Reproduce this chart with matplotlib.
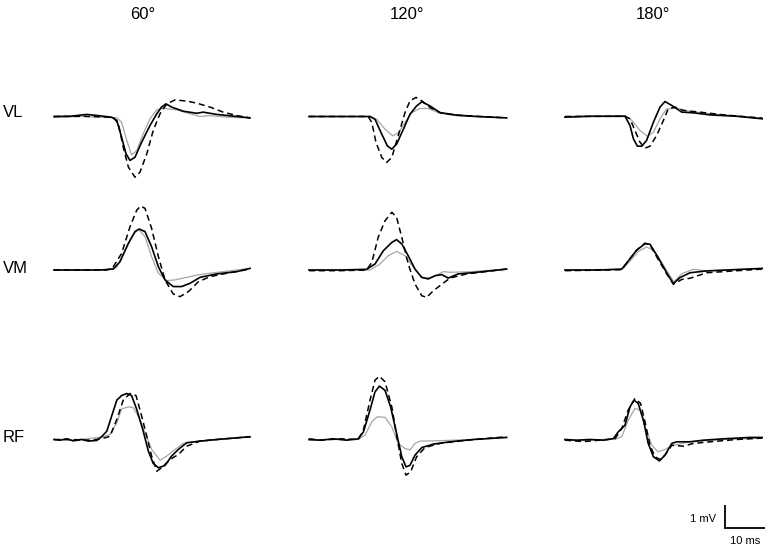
import matplotlib.pyplot as plt

plt.rcParams['font.family'] = ['Liberation Sans', 'DejaVu Sans']

angles = ['60°', '120°', '180°']
muscles = ['VL', 'VM', 'RF']

# traces as (time ms, amplitude mV)
vl_60_gray = [(0, -0.03), (7.3, 0), (11.5, -0.03), (15.7, -0.06), (16.9, -0.25), (18.2, -1.04),
              (19.4, -1.67), (20.7, -1.48), (22.3, -0.75), (24, -0.1), (25.7, 0.29), (27.3, 0.36),
              (30.7, 0.29), (34, 0.12), (36.5, 0), (39, 0.04), (43.2, -0.03), (49, -0.06)]
vl_60_black = [(0, 0), (4, 0.01), (8.2, 0.09), (11.5, 0.03), (14.4, -0.03), (15.7, -0.17),
               (16.9, -0.9), (18, -1.62), (19, -1.91), (20.25, -1.77), (21.9, -1.12), (24, -0.39),
               (25.7, 0.12), (26.9, 0.41), (28, 0.55), (29.4, 0.41), (32.3, 0.23), (35.7, 0.14),
               (37.3, 0.19), (40.7, 0.09), (45.7, 0), (49, -0.06)]
vl_60_dash = [(0, 0), (7.3, 0.01), (14.8, -0.03), (16.1, -0.32), (17.3, -1.33), (18.6, -2.2),
              (20.25, -2.64), (21.5, -2.42), (23.2, -1.62), (24.8, -0.61), (26.5, 0.12), (28.2, 0.55),
              (30.25, 0.72), (33.2, 0.67), (35.7, 0.58), (39, 0.41), (42.3, 0.19), (45.7, 0.04),
              (49, -0.06)]

vl_120_gray = [(0, 0), (15.25, 0), (16.9, -0.12), (19, -0.55), (20.9, -0.84), (22.3, -0.72),
               (24, -0.26), (25.7, 0.17), (27.75, 0.35), (29.8, 0.35), (32.75, 0.14), (36.9, 0.03),
               (49.4, -0.06)]
vl_120_black = [(0, 0), (10.25, 0), (15.25, 0), (16.5, -0.12), (18.2, -0.77), (19.6, -1.28),
                (20.7, -1.42), (21.9, -1.2), (23.6, -0.55), (25.25, 0.1), (26.9, 0.46), (28.2, 0.64),
                (30.25, 0.46), (32.75, 0.17), (36.9, 0.06), (41.9, 0), (49.4, -0.06)]
vl_120_dash = [(0, 0), (14.8, 0), (15.7, -0.26), (16.75, -1.13), (18.2, -1.78), (19.4, -2.0),
               (20.7, -1.78), (22.3, -0.84), (24, 0.17), (25.25, 0.68), (26.75, 0.83), (28.2, 0.68),
               (30.25, 0.39), (32.75, 0.17), (36.9, 0.06), (49.4, -0.06)]

vl_180_gray = [(0, 0), (15, 0.04), (16.7, -0.17), (18.75, -0.61), (20.6, -0.86), (22.1, -0.68),
               (23.75, -0.1), (25.4, 0.33), (27.9, 0.36), (31.25, 0.22), (36.25, 0.12), (49.3, -0.07)]
vl_180_black = [(0, -0.03), (6.25, 0.01), (12.9, 0.01), (15, 0.01), (16.25, -0.39), (17.1, -0.97),
                (18.1, -1.29), (19.2, -1.29), (20.4, -1.04), (22.1, -0.25), (23.75, 0.41), (25, 0.65),
                (26.7, 0.48), (29.2, 0.19), (32.1, 0.16), (36.25, 0.07), (42.9, 0.01), (49.3, -0.1)]
vl_180_dash = [(0, 0), (15, 0.01), (16.25, -0.1), (17.5, -0.61), (18.75, -1.12), (20, -1.38),
               (21.25, -1.29), (22.9, -0.83), (24.6, -0.17), (25.8, 0.33), (27.5, 0.41), (29.6, 0.26),
               (33.75, 0.19), (39.6, 0.07), (49.3, -0.07)]

vm_60_gray = [(0, 0), (13.2, 0), (15.7, 0.12), (17.75, 0.87), (19.7, 1.52), (21.1, 1.78),
              (22.75, 1.45), (24.4, 0.58), (26.1, -0.14), (28.2, -0.46), (30.25, -0.43), (33.2, -0.32),
              (35.7, -0.22), (39, -0.14), (49, 0.07)]
vm_60_black = [(0, 0), (11.5, 0), (14.8, 0.04), (16.5, 0.36), (18.6, 1.16), (20.25, 1.67),
               (21.3, 1.78), (22.75, 1.67), (24.4, 1.01), (26.1, 0.14), (27.75, -0.43), (29.8, -0.72),
               (31.9, -0.72), (34, -0.58), (36.5, -0.32), (40.7, -0.17), (45.7, -0.07), (49, 0.07)]
vm_60_dash = [(0, 0), (13.2, 0), (14.8, 0.14), (16.9, 0.72), (19, 1.88), (20.7, 2.61), (21.7, 2.78),
              (22.75, 2.68), (24.4, 1.81), (26.1, 0.58), (27.75, -0.43), (29.8, -1.04), (31.5, -1.16),
              (33.6, -0.94), (36.1, -0.51), (39, -0.29), (43.2, -0.14), (49, 0.04)]

vm_120_gray = [(0, 0), (15.25, 0), (17.75, 0.26), (19.8, 0.62), (21.9, 0.81), (24, 0.62),
               (26.1, 0.12), (28.2, -0.35), (30.7, -0.32), (33.6, -0.07), (35.25, -0.1), (41.1, -0.07),
               (49.4, 0.04)]
vm_120_black = [(0, 0), (7.75, 0), (14.4, 0.03), (16.5, 0.26), (18.6, 0.84), (20.7, 1.2),
                (21.9, 1.32), (23.2, 1.13), (24.8, 0.62), (26.5, 0.04), (28.2, -0.32), (29.8, -0.39),
                (31.5, -0.25), (33.2, -0.2), (34.8, -0.35), (37.3, -0.17), (41.9, -0.1), (49.4, 0.04)]
vm_120_dash = [(0, -0.03), (7.75, -0.03), (14.4, 0), (15.7, 0.33), (17.3, 1.42), (19, 2.14),
               (20.7, 2.51), (21.9, 2.29), (23.2, 1.42), (24.8, 0.26), (26.5, -0.61), (28.2, -1.12),
               (29.4, -1.19), (31.1, -0.9), (32.75, -0.68), (35.25, -0.35), (39.4, -0.17), (49.4, 0.04)]

vm_180_gray = [(0, 0), (14.2, 0.03), (16.25, 0.39), (18.3, 0.8), (20.4, 1.0), (22.1, 0.86),
               (24.2, 0.32), (26.25, -0.26), (27.25, -0.51), (29.2, -0.16), (32.1, 0.03), (35.4, -0.04),
               (49.3, 0.07)]
vm_180_black = [(0, 0), (8.75, 0), (14.2, 0.04), (15.8, 0.39), (17.9, 0.86), (20, 1.14),
                (21.25, 1.12), (23.3, 0.54), (25.4, -0.12), (27.1, -0.59), (28.75, -0.33), (31.25, -0.12),
                (35.4, -0.04), (49.3, 0.07)]
vm_180_dash = [(0, -0.03), (14.2, 0.01), (15.8, 0.39), (17.9, 0.86), (20, 1.17), (21.25, 1.09),
               (23.3, 0.46), (25.4, -0.16), (27.1, -0.62), (29.2, -0.41), (31.25, -0.36), (35.4, -0.12),
               (39.6, -0.07), (49.3, 0.04)]

rf_60_gray = [(0, 0), (4, -0.03), (8.2, 0.03), (12.3, 0.12), (14, 0.22), (15.7, 0.72), (16.9, 1.33),
              (18.6, 1.42), (19.8, 1.38), (21.1, 1.01), (22.75, 0.29), (24.4, -0.43), (26.5, -0.9),
              (28.2, -0.72), (30.25, -0.43), (32.3, -0.17), (36.5, -0.07), (49, 0.12)]
rf_60_black = [(0, 0), (1.5, -0.03), (3.2, 0.03), (4.8, -0.06), (6.9, 0), (8.6, -0.07), (10.7, -0.04),
               (11.9, 0.12), (13.2, 0.36), (14.4, 1.01), (15.7, 1.71), (16.9, 1.91), (18.2, 2.0),
               (19.4, 1.91), (20.7, 1.3), (22.2, 0.43), (23.6, -0.51), (24.8, -1.04), (26.1, -1.23),
               (27.75, -1.13), (29.4, -0.72), (31.1, -0.43), (33.2, -0.14), (36.5, -0.07), (40.7, 0),
               (44.8, 0.06), (49, 0.12)]
rf_60_dash = [(0, 0), (4, 0), (9, -0.03), (11.9, 0.03), (14, 0.14), (15.7, 0.87), (17.3, 1.71),
              (19, 2.0), (20.5, 1.91), (21.7, 1.16), (23.2, 0.14), (24.4, -0.72), (25.7, -1.38),
              (26.9, -1.23), (29, -0.87), (31.1, -0.65), (33.2, -0.29), (36.5, -0.07), (40.7, 0),
              (49, 0.12)]

rf_120_gray = [(0, -0.03), (6.1, 0), (12.3, 0), (14, 0.19), (15.7, 0.77), (17.1, 0.99), (19, 0.96),
               (20.7, 0.55), (22.3, -0.17), (24, -0.39), (25.25, -0.46), (26.5, -0.17), (27.75, -0.07),
               (31.1, -0.06), (41.1, 0), (49.4, 0.09)]
rf_120_black = [(0, 0), (2.75, -0.03), (6.1, 0.03), (9.4, -0.03), (12.3, 0.03), (13.6, 0.33),
                (15.25, 1.28), (16.5, 2.07), (17.6, 2.32), (19, 2.14), (20.4, 1.42), (21.9, 0.26),
                (23.2, -0.75), (24.25, -1.19), (25.25, -1.12), (26.5, -0.68), (28.2, -0.35), (31.1, -0.2),
                (35.25, -0.1), (41.1, 0), (49.4, 0.09)]
rf_120_dash = [(0, 0.03), (2.75, -0.03), (7.75, 0.03), (12.3, 0), (13.6, 0.41), (15.25, 1.71),
               (16.5, 2.58), (17.6, 2.75), (19, 2.51), (20.7, 1.42), (22.1, -0.03), (23.2, -1.04),
               (24.25, -1.55), (25.4, -1.41), (26.9, -0.75), (29, -0.35), (32.75, -0.17), (39.4, -0.03),
               (49.4, 0.12)]

rf_180_gray = [(0, -0.03), (6.25, -0.03), (12.9, 0.03), (14.2, 0.12), (15.8, 0.84), (17.5, 1.35),
               (18.75, 1.28), (20, 0.55), (21.7, -0.25), (23.3, -0.54), (25, -0.43), (27.1, -0.25),
               (31.25, -0.1), (39.6, 0), (49.3, 0.06)]
rf_180_black = [(0, 0), (2.9, -0.03), (6.25, 0), (9.6, -0.03), (12.1, 0.04), (13.3, 0.33), (15, 0.62),
                (16.25, 1.42), (17.25, 1.71), (18.3, 1.57), (19.6, 0.84), (20.8, -0.17), (22.1, -0.75),
                (23.6, -0.93), (25, -0.68), (26.7, -0.17), (27.9, -0.1), (31.25, -0.1), (34.6, -0.03),
                (39.6, 0.03), (46.25, 0.09), (49.3, 0.09)]
rf_180_dash = [(0, -0.03), (4.6, -0.09), (8.75, -0.03), (12.5, 0.03), (14.2, 0.48), (15.8, 1.28),
               (17.5, 1.78), (18.9, 1.57), (20, 0.77), (21.25, -0.25), (22.5, -0.75), (23.75, -0.87),
               (25, -0.68), (26.7, -0.25), (29.6, -0.29), (32.1, -0.17), (36.25, -0.1), (42.9, 0),
               (49.3, 0.06)]

panels = [
    [(vl_60_gray, vl_60_black, vl_60_dash), (vl_120_gray, vl_120_black, vl_120_dash),
     (vl_180_gray, vl_180_black, vl_180_dash)],
    [(vm_60_gray, vm_60_black, vm_60_dash), (vm_120_gray, vm_120_black, vm_120_dash),
     (vm_180_gray, vm_180_black, vm_180_dash)],
    [(rf_60_gray, rf_60_black, rf_60_dash), (rf_120_gray, rf_120_black, rf_120_dash),
     (rf_180_gray, rf_180_black, rf_180_dash)],
]

# layout: one axes covering the figure, 4 px per ms and 23 px per mV
fig = plt.figure(figsize=(7.67, 5.46), dpi=100)
ax = fig.add_axes([0, 0, 1, 1])
ax.set_xlim(0, 767 / 4.)
ax.set_ylim(0, 546 / 23.)
ax.axis('off')

col_x = [54 / 4., 309 / 4., 565 / 4.]
row_y = [(546 - 116.5) / 23., (546 - 270) / 23., (546 - 439.5) / 23.]

for r in range(3):
    for c in range(3):
        gray, black, dash = panels[r][c]
        x0, y0 = col_x[c], row_y[r]
        ax.plot([x0 + t for t, v in gray], [y0 + v for t, v in gray],
                color='#a6a6a6', lw=0.9, solid_joinstyle='round')
        ax.plot([x0 + t for t, v in dash], [y0 + v for t, v in dash],
                color='black', lw=1.1, linestyle=(0, (4, 2.5)), dash_joinstyle='round')
        ax.plot([x0 + t for t, v in black], [y0 + v for t, v in black],
                color='black', lw=1.2, solid_joinstyle='round')

title_x = [143, 407, 653]
for c in range(3):
    ax.text(title_x[c] / 4., (546 - 14) / 23., angles[c], fontsize=12,
            ha='center', va='center')
label_y = [112, 268, 438]
for r in range(3):
    ax.text(3 / 4., (546 - label_y[r]) / 23., muscles[r], fontsize=12,
            ha='left', va='center')

# scale bar: 1 mV and 10 ms
sx, sy = 725 / 4., (546 - 528) / 23.
ax.plot([sx, sx, sx + 10], [sy + 1, sy, sy], color='black', lw=1.3,
        solid_capstyle='butt', solid_joinstyle='miter')
ax.text(sx - 2.2, sy + 0.4, '1 mV', fontsize=8, ha='right', va='center')
ax.text(sx + 5, sy - 0.35, '10 ms', fontsize=8, ha='center', va='top')

fig.savefig('out.png', dpi=100)
